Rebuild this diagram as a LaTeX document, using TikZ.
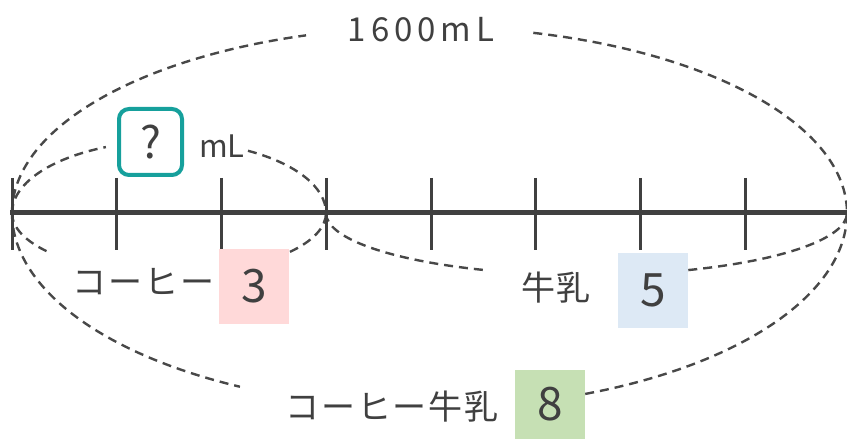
\documentclass[tikz,border=0pt]{standalone}
\usepackage{fontspec}
\setmainfont{Noto Sans CJK JP}
\definecolor{ink}{HTML}{404040}
\definecolor{dashc}{HTML}{484848}
\definecolor{teal1}{HTML}{16A09C}
\definecolor{pinkb}{HTML}{FFD9D9}
\definecolor{blueb}{HTML}{DDE9F5}
\definecolor{greenb}{HTML}{C6E0B4}
\begin{document}
\begin{tikzpicture}[x=1pt,y=1pt,
  dsh/.style={draw=dashc,line width=2.4pt,dash pattern=on 9pt off 6pt},
  tick/.style={draw=ink,line width=3pt},
  txt/.style={text=ink,inner sep=0pt,font=\fontsize{34}{38}\selectfont\addfontfeature{LetterSpace=5}},
  numbox/.style={minimum width=70pt,inner sep=0pt,text=ink,font=\fontsize{46}{50}\selectfont}]
\useasboundingbox (0,0) rectangle (847,439);
% centres of the arcs
\coordinate (cbig) at (429.5,226);
\coordinate (cl) at (169,226);
\coordinate (cr) at (586.5,226);
\coordinate (p0) at (12,226);
\coordinate (p3) at (326,226);
% big upper arc
\draw[dsh] (p0) arc[start angle=180,end angle=107.2,x radius=417.5,y radius=186];
\draw[dsh] (cbig) ++(75.6:417.5 and 186) arc[start angle=75.6,end angle=0,x radius=417.5,y radius=186];
% big lower arc
\draw[dsh] (p0) arc[start angle=180,end angle=243,x radius=417.5,y radius=195];
\draw[dsh] (cbig) ++(291.9:417.5 and 195) arc[start angle=291.9,end angle=360,x radius=417.5,y radius=195];
% small upper-left arc
\draw[dsh] (p0) arc[start angle=180,end angle=113.7,x radius=157,y radius=72];
\draw[dsh] (cl) ++(59.8:157 and 72) arc[start angle=59.8,end angle=0,x radius=157,y radius=72];
% small lower-left arc
\draw[dsh] (p0) arc[start angle=180,end angle=220.7,x radius=157,y radius=61];
\draw[dsh] (cl) ++(320.4:157 and 61) arc[start angle=320.4,end angle=360,x radius=157,y radius=61];
% lower-right arc
\draw[dsh] (p3) arc[start angle=180,end angle=246.6,x radius=260.5,y radius=62];
\draw[dsh] (cr) ++(293:260.5 and 62) arc[start angle=293,end angle=360,x radius=260.5,y radius=62];
% number line
\coordinate (lend) at (847,226);
\draw[draw=ink,line width=5pt] (10,226) -- (lend);
\foreach \x in {12.5,116,221,326,431,535,640,745}{
  \draw[tick] (\x,261) -- (\x,189);
}
% labels
\node[txt,font=\fontsize{33}{36}\selectfont\addfontfeature{LetterSpace=15}] (t1600) at (421,409) {1600mL};
\node[draw=teal1,line width=4pt,rounded corners=10pt,minimum width=63pt,minimum height=66pt,inner sep=0pt,text=ink,font=\fontsize{44}{46}\selectfont] (q) at (150.5,297) {?};
\node[txt,font=\fontsize{31}{34}\selectfont] (ml) at (222,293) {mL};
\node[txt] (cof) at (143.5,157) {コーヒー};
\node[numbox,fill=pinkb,minimum height=75pt] (n3) at (254,152.5) {3};
\node[txt] (milk) at (556,151) {牛乳};
\node[numbox,fill=blueb,minimum height=75pt] (n5) at (653,148.5) {5};
\node[txt] (cm) at (392,32) {コーヒー牛乳};
\node[numbox,fill=greenb,minimum height=69pt] (n8) at (550,34.5) {8};
\end{tikzpicture}
\end{document}
